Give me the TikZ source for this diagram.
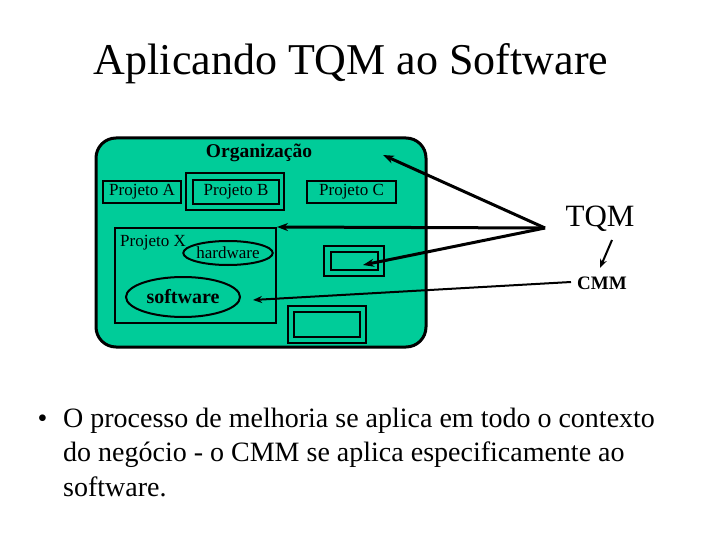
\documentclass[tikz,border=0pt]{standalone}
\usepackage{fontspec}
\setmainfont{Liberation Serif}
\usetikzlibrary{arrows.meta,shapes.geometric}
\definecolor{orgfill}{RGB}{0,204,153}
\begin{document}
\begin{tikzpicture}[x=1pt,y=-1pt,
  box/.style={draw,line width=2pt,inner sep=0pt,font=\fontsize{17}{19}\selectfont},
  oval/.style={draw,line width=2pt,ellipse,inner sep=0pt},
  tqmarrow/.style={line width=3pt,-{Stealth[length=11pt,width=8pt]}},
  cmmarrow/.style={line width=2pt,-{Stealth[length=9pt,width=7pt]}},
]
\useasboundingbox[fill=white] (0,0) rectangle (720,540);
\node[anchor=base,font=\fontsize{44}{50}\selectfont] (title) at (351,75) {Aplicando TQM ao Software};
% organisation
\node[draw,line width=3pt,fill=orgfill,rounded corners=20pt,minimum width=330pt,minimum height=209pt,inner sep=0pt] (org) at (261,242.5) {};
\node[font=\bfseries\fontsize{19.5}{21}\selectfont] (orgl) at (259,153) {Organização};
% projects
\node[box,minimum width=78pt,minimum height=22pt] (pa) at (142,192) {Projeto A};
\node[box,minimum width=98pt,minimum height=37pt] (pbo) at (235,191.5) {};
\node[box,minimum width=86pt,minimum height=24pt] (pb) at (236,192) {Projeto B};
\node[box,minimum width=89pt,minimum height=22pt] (pc) at (351.5,192) {Projeto C};
\node[box,minimum width=161pt,minimum height=95pt] (px) at (195.5,275.5) {};
\node[font=\fontsize{17}{19}\selectfont] (pxl) at (153,243) {Projeto X};
\node[oval,minimum width=84pt,minimum height=24pt,font=\fontsize{17}{19}\selectfont] (hw) at (228,253) {hardware};
\node[oval,minimum width=114pt,minimum height=40pt,font=\bfseries\fontsize{20}{22}\selectfont] (sw) at (183,297) {software};
\node[box,minimum width=60pt,minimum height=30pt] (r1o) at (354,261) {};
\node[box,minimum width=47pt,minimum height=18pt] (r1i) at (354.5,261) {};
\node[box,minimum width=78pt,minimum height=37pt] (r2o) at (327,324.5) {};
\node[box,minimum width=66pt,minimum height=25pt] (r2i) at (327,324.5) {};
% TQM / CMM
\node[font=\fontsize{31}{34}\selectfont] (tqm) at (600,219) {TQM};
\node[font=\bfseries\fontsize{19}{21}\selectfont] (cmm) at (602,283) {CMM};
\coordinate (tqmpt) at (545,228);
\coordinate (orgtip) at (383,155);
\coordinate (r1tip) at (363,265);
\coordinate (swtip) at (253,300);
\coordinate (cmmstart) at (571,282);
\coordinate (tqmbot) at (612,240);
\coordinate (cmmtop) at (600,268);
\draw[tqmarrow] (tqmpt) -- (orgtip);
\draw[tqmarrow] (tqmpt) -- (px.north east);
\draw[tqmarrow] (tqmpt) -- (r1tip);
\draw[cmmarrow] (cmmstart) -- (swtip);
\draw[cmmarrow] (tqmbot) -- (cmmtop);
% bullet
\node[anchor=base west,font=\fontsize{28}{34}\selectfont] (bul) at (34,427) {•};
\node[anchor=base west,align=left,inner sep=0pt,font=\fontsize{28}{34.5}\selectfont] (txt) at (63,496)
  {O processo de melhoria se aplica em todo o contexto\\do negócio - o CMM se aplica especificamente ao\\software.};
\end{tikzpicture}
\end{document}
